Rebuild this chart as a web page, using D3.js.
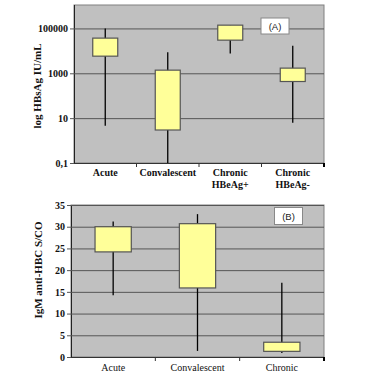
<!DOCTYPE html>
<html><head><meta charset="utf-8">
<script src="https://cdn.jsdelivr.net/npm/d3@7"></script>
<style>body{margin:0;background:#fff}svg{display:block}
.sf{font-family:"Liberation Serif","DejaVu Serif","Times New Roman",serif}
.ss{font-family:"Liberation Sans","DejaVu Sans",Arial,sans-serif}</style>
</head><body>
<script>
// Panel A data (log HBsAg IU/mL)
const catsA = [["Acute"], ["Convalescent"], ["Chronic","HBeAg+"], ["Chronic","HBeAg-"]];
const minA = [4.6, 0.1, 7600, 6.3];
const q1A  = [5800, 2.96, 30000, 430];
const q3A  = [37000, 1380, 140000, 1700];
const maxA = [100000, 8700, 140000, 17000];
const ticksA = [0.1, 10, 1000, 100000];
const tickLabelsA = ["0,1", "10", "1000", "100000"];

// Panel B data (IgM anti-HBC S/CO)
const catsB = ["Acute", "Convalescent", "Chronic"];
const minB = [14.2, 1.4, 0.9];
const q1B  = [24.2, 15.9, 1.3];
const q3B  = [30.0, 30.7, 3.4];
const maxB = [31.2, 32.9, 17.1];
const ticksB = [0, 5, 10, 15, 20, 25, 30, 35];

const W = 367, H = 380;
const svg = d3.select("body").append("svg").attr("width", W).attr("height", H);

function panel(opt) {
  const g = svg.append("g");
  const x = d3.scaleBand().domain(d3.range(opt.n)).range([opt.x0, opt.x1]);
  const y = opt.y;
  g.append("rect").attr("x", opt.x0).attr("y", opt.yTop).attr("width", opt.x1 - opt.x0)
    .attr("height", opt.yBot - opt.yTop).attr("fill", "#c0c0c0").attr("stroke", "#808080").attr("stroke-width", 1);
  const yAxis = d3.axisLeft(y).tickValues(opt.ticks).tickFormat((d, i) => opt.tickLabels[i])
    .tickSize(-(opt.x1 - opt.x0)).tickPadding(6);
  const ya = g.append("g").attr("transform", `translate(${opt.x0},0)`).call(yAxis);
  ya.attr("font-family", null);
  ya.select(".domain").attr("stroke", "#222").attr("d", `M0.5,${opt.yTop}V${opt.yBot}`);
  ya.selectAll(".tick line").attr("stroke", "#555").attr("stroke-width", 1).attr("x1", -4);
  ya.selectAll(".tick text").attr("class", "sf").attr("font-weight", "bold")
    .attr("font-size", 10).attr("fill", "#111").attr("x", -6);
  const xa = g.append("g").attr("transform", `translate(0,${opt.yBot})`);
  xa.append("line").attr("x1", opt.x0).attr("x2", opt.x1).attr("y1", 0.5).attr("y2", 0.5).attr("stroke", "#333");
  const bounds = d3.range(opt.n + 1).map(i => i < opt.n ? x(i) : opt.x1);
  xa.selectAll("line.tk").data(bounds.slice(1)).join("line").attr("class", "tk")
    .attr("x1", d => d).attr("x2", d => d).attr("y1", 0).attr("y2", 4)
    .attr("stroke", (d, i) => i === opt.n - 1 ? "#000" : "#333")
    .attr("stroke-width", (d, i) => i === opt.n - 1 ? 2 : 1);
  opt.labels.forEach((lab, i) => {
    const lines = Array.isArray(lab) ? lab : [lab];
    lines.forEach((t, j) => {
      g.append("text").attr("class", "sf").attr("x", x(i) + x.bandwidth() / 2).attr("y", opt.yBot + opt.labOff + j * 12)
        .attr("text-anchor", "middle").attr("font-weight", opt.labWeight)
        .attr("font-size", 10).attr("fill", "#111").text(t);
    });
  });
  const bw = x.bandwidth() * opt.boxFrac;
  const cx = i => x(i) + x.bandwidth() / 2;
  g.selectAll("line.wh").data(d3.range(opt.n)).join("line").attr("class", "wh")
    .attr("x1", cx).attr("x2", cx).attr("y1", i => y(opt.max[i])).attr("y2", i => y(opt.min[i]))
    .attr("stroke", "#000").attr("stroke-width", 1.3);
  g.selectAll("rect.bx").data(d3.range(opt.n)).join("rect").attr("class", "bx")
    .attr("x", i => cx(i) - bw / 2).attr("width", bw)
    .attr("y", i => y(opt.q3[i])).attr("height", i => y(opt.q1[i]) - y(opt.q3[i]))
    .attr("fill", "#ffff99").attr("stroke", "#555").attr("stroke-width", 1.2);
  g.append("rect").attr("x", opt.lg[0]).attr("y", opt.lg[1]).attr("width", opt.lg[2]).attr("height", opt.lg[3])
    .attr("fill", "#fff").attr("stroke", "#888").attr("stroke-width", 1);
  g.append("text").attr("class", "ss").attr("x", opt.lg[0] + opt.lg[2] / 2).attr("y", opt.lg[1] + opt.lg[3] / 2 + 3.5)
    .attr("text-anchor", "middle").attr("font-size", 9.5).attr("fill", "#222").text(opt.lgText);
  g.append("text").attr("class", "sf").attr("transform", `translate(${opt.titleX},${opt.titleY}) rotate(-90)`)
    .attr("text-anchor", "middle").attr("font-weight", "bold")
    .attr("font-size", 11).attr("fill", "#111").text(opt.title);
}

panel({
  n: 4, x0: 74, x1: 324, yTop: 5, yBot: 163,
  y: d3.scaleLog().domain([0.1, 1e6]).range([163, 6]),
  ticks: ticksA, tickLabels: tickLabelsA,
  labels: catsA, labOff: 13, labWeight: "bold", boxFrac: 0.4,
  min: minA, q1: q1A, q3: q3A, max: maxA,
  lg: [261, 18, 28, 16], lgText: "(A)",
  title: "log HBsAg IU/mL", titleX: 41, titleY: 86
});

panel({
  n: 3, x0: 71, x1: 324, yTop: 205, yBot: 357,
  y: d3.scaleLinear().domain([0, 35]).range([357, 205]),
  ticks: ticksB, tickLabels: ticksB.map(String),
  labels: catsB, labOff: 14, labWeight: "normal", boxFrac: 0.43,
  min: minB, q1: q1B, q3: q3B, max: maxB,
  lg: [274.5, 207.5, 28, 17], lgText: "(B)",
  title: "IgM anti-HBC S/CO", titleX: 42, titleY: 270
});
</script>
</body></html>
